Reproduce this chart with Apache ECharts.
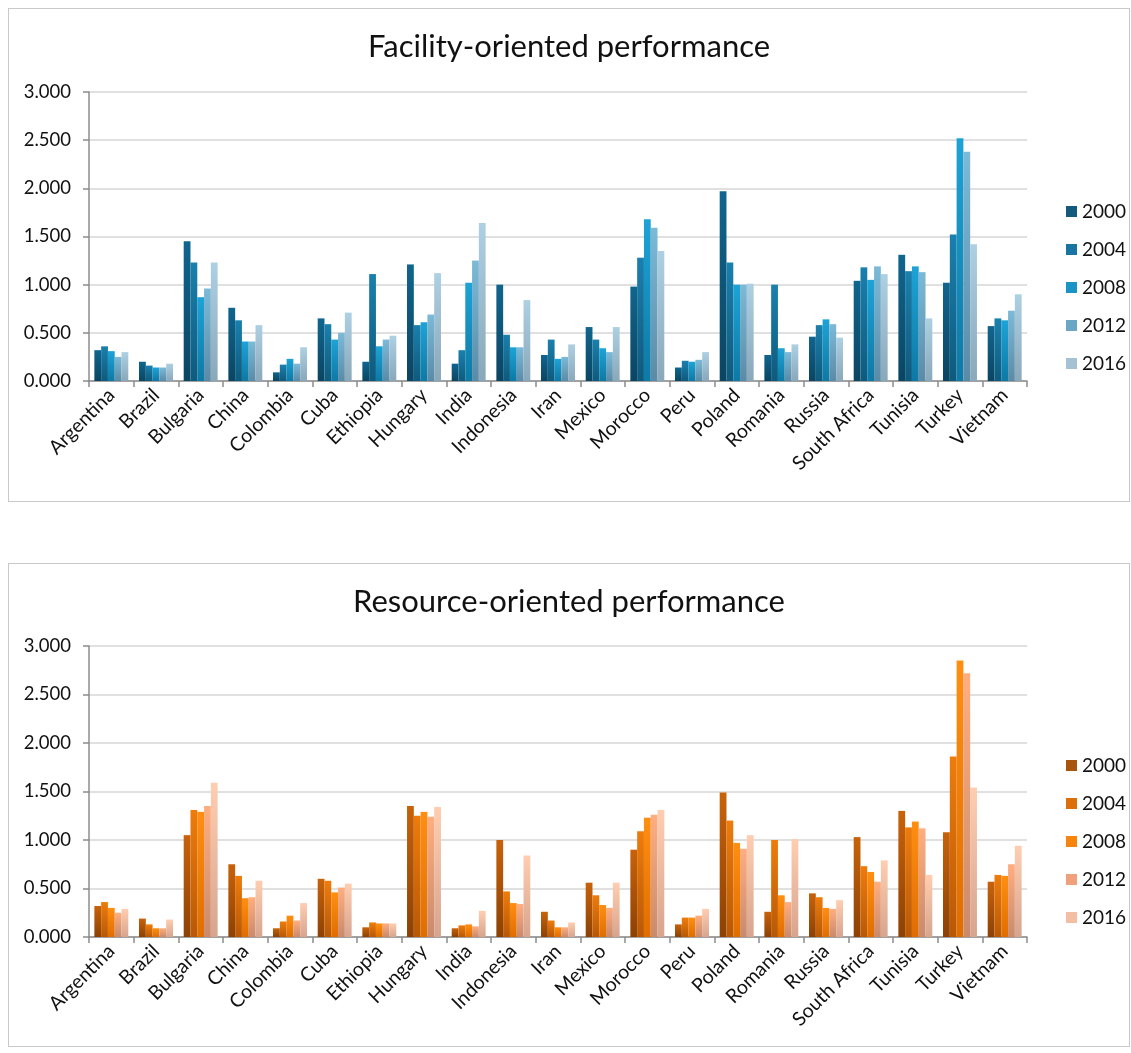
<!DOCTYPE html>
<html>
<head>
<meta charset="utf-8">
<script src="https://cdn.jsdelivr.net/npm/echarts@6/dist/echarts.min.js"></script>
<style>
  html, body { margin: 0; padding: 0; background: #fff; }
  .box { position: absolute; left: 8px; width: 1120px; border: 1px solid #c9c9c9; background: #fff; }
  #top { top: 8px; height: 492px; }
  #bottom { top: 563px; height: 482px; }
</style>
</head>
<body>
<div id="top" class="box"></div>
<div id="bottom" class="box"></div>
<script>
const countries = ['Argentina', 'Brazil', 'Bulgaria', 'China', 'Colombia', 'Cuba', 'Ethiopia', 'Hungary', 'India', 'Indonesia', 'Iran', 'Mexico', 'Morocco', 'Peru', 'Poland', 'Romania', 'Russia', 'South Africa', 'Tunisia', 'Turkey', 'Vietnam'];
const years = ['2000', '2004', '2008', '2012', '2016'];
const yTicks = [0, 0.5, 1, 1.5, 2, 2.5, 3];

// Facility-oriented performance, one array per year
const facility2000 = [0.32, 0.20, 1.45, 0.76, 0.09, 0.65, 0.20, 1.21, 0.18, 1.00, 0.27, 0.56, 0.98, 0.14, 1.97, 0.27, 0.46, 1.04, 1.31, 1.02, 0.57];
const facility2004 = [0.36, 0.16, 1.23, 0.63, 0.17, 0.59, 1.11, 0.58, 0.32, 0.48, 0.43, 0.43, 1.28, 0.21, 1.23, 1.00, 0.58, 1.18, 1.14, 1.52, 0.65];
const facility2008 = [0.31, 0.14, 0.87, 0.41, 0.23, 0.43, 0.36, 0.61, 1.02, 0.35, 0.23, 0.34, 1.68, 0.20, 1.00, 0.34, 0.64, 1.05, 1.19, 2.52, 0.63];
const facility2012 = [0.25, 0.14, 0.96, 0.41, 0.18, 0.50, 0.43, 0.69, 1.25, 0.35, 0.25, 0.30, 1.59, 0.22, 1.00, 0.30, 0.59, 1.19, 1.13, 2.38, 0.73];
const facility2016 = [0.30, 0.18, 1.23, 0.58, 0.35, 0.71, 0.47, 1.12, 1.64, 0.84, 0.38, 0.56, 1.35, 0.30, 1.01, 0.38, 0.45, 1.11, 0.65, 1.42, 0.90];

// Resource-oriented performance, one array per year
const resource2000 = [0.32, 0.19, 1.05, 0.75, 0.09, 0.60, 0.10, 1.35, 0.09, 1.00, 0.26, 0.56, 0.90, 0.13, 1.49, 0.26, 0.45, 1.03, 1.30, 1.08, 0.57];
const resource2004 = [0.36, 0.13, 1.31, 0.63, 0.16, 0.58, 0.15, 1.25, 0.12, 0.47, 0.17, 0.43, 1.09, 0.20, 1.20, 1.00, 0.41, 0.73, 1.13, 1.86, 0.64];
const resource2008 = [0.30, 0.09, 1.29, 0.40, 0.22, 0.46, 0.14, 1.29, 0.13, 0.35, 0.10, 0.33, 1.23, 0.20, 0.97, 0.43, 0.30, 0.67, 1.19, 2.85, 0.63];
const resource2012 = [0.25, 0.09, 1.35, 0.41, 0.17, 0.51, 0.14, 1.24, 0.11, 0.34, 0.10, 0.30, 1.26, 0.22, 0.91, 0.36, 0.29, 0.57, 1.12, 2.72, 0.75];
const resource2016 = [0.29, 0.18, 1.59, 0.58, 0.35, 0.55, 0.14, 1.34, 0.27, 0.84, 0.15, 0.56, 1.31, 0.29, 1.05, 1.01, 0.38, 0.79, 0.64, 1.54, 0.94];

// bar shading: [top colour, bottom colour, legend swatch]
const blueShades = [
  ['#10658e', '#0a4562', '#145a7c'],
  ['#1a80ad', '#0e5a7d', '#1874a0'],
  ['#1ea3d6', '#0d79a6', '#1a93c6'],
  ['#7cbad8', '#5a8ba6', '#6aa6c6'],
  ['#aed0e3', '#89a8ba', '#a5c2d4']
];
const orangeShades = [
  ['#c8620a', '#8c4104', '#a9540c'],
  ['#ee7c0c', '#b85805', '#dc6f0a'],
  ['#ff8f12', '#e06d00', '#f7850d'],
  ['#ffae80', '#c98a6c', '#f0a07a'],
  ['#ffcdb0', '#d7a58e', '#f2bea4']
];

const FONT = 'Lato, "Open Sans", sans-serif';

function buildOption(title, seriesData, shades) {
  return {
    animation: false,
    textStyle: { fontFamily: FONT },
    title: {
      text: title,
      left: 'center',
      top: 17,
      textStyle: { fontFamily: FONT, fontSize: 31, fontWeight: 'normal', color: '#111' }
    },
    legend: {
      orient: 'vertical',
      left: 1052,
      top: 188,
      itemWidth: 11,
      itemHeight: 11,
      itemGap: 19,
      icon: 'rect',
      textStyle: { fontFamily: FONT, fontSize: 19, lineHeight: 19, color: '#111' },
      data: years.map((y, i) => ({ name: y, itemStyle: { color: shades[i][2] } }))
    },
    grid: { left: 80, top: 83, width: 938, height: 289 },
    xAxis: {
      type: 'category',
      data: countries,
      axisLine: { lineStyle: { color: '#8c8c8c', width: 1.5 } },
      axisTick: { show: true, alignWithLabel: false, length: 6, lineStyle: { color: '#8c8c8c', width: 1.5 } },
      axisLabel: { rotate: 45, interval: 0, fontFamily: FONT, fontSize: 19.5, color: '#111', margin: 11 }
    },
    yAxis: {
      type: 'value',
      min: yTicks[0],
      max: yTicks[yTicks.length - 1],
      interval: yTicks[1] - yTicks[0],
      axisLine: { show: true, lineStyle: { color: '#8c8c8c', width: 1.5 } },
      axisTick: { show: true, length: 6, lineStyle: { color: '#8c8c8c', width: 1.5 } },
      axisLabel: { fontFamily: FONT, fontSize: 18.5, color: '#111', margin: 18, formatter: v => v.toFixed(3) },
      splitLine: { lineStyle: { color: '#d6d6d6', width: 1.5 } }
    },
    series: seriesData.map((d, i) => ({
      name: years[i],
      type: 'bar',
      data: d,
      barGap: '0%',
      barCategoryGap: '24%',
      itemStyle: {
        color: new echarts.graphic.LinearGradient(0, 0, 0, 1, [
          { offset: 0, color: shades[i][0] },
          { offset: 1, color: shades[i][1] }
        ])
      }
    }))
  };
}

const topChart = echarts.init(document.getElementById('top'));
topChart.setOption(buildOption('Facility-oriented performance',
  [facility2000, facility2004, facility2008, facility2012, facility2016], blueShades));

const bottomChart = echarts.init(document.getElementById('bottom'));
const bottomOption = buildOption('Resource-oriented performance',
  [resource2000, resource2004, resource2008, resource2012, resource2016], orangeShades);
bottomOption.grid.top = 82;
bottomOption.grid.height = 291;
bottomOption.legend.top = 187;
bottomChart.setOption(bottomOption);
</script>
</body>
</html>
